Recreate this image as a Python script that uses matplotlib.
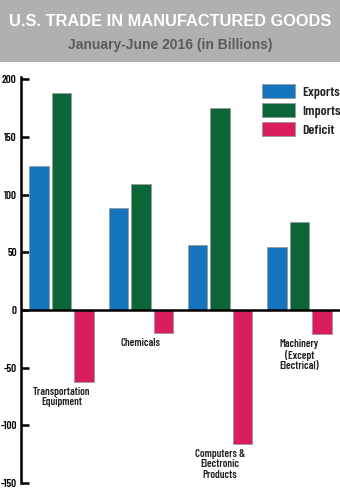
import matplotlib
matplotlib.use("Agg")
import matplotlib.pyplot as plt
from matplotlib.patches import Rectangle
import numpy as np

categories = ["Transportation\nEquipment", "Chemicals", "Computers &\nElectronic\nProducts",
              "Machinery\n(Except\nElectrical)"]
exports = [125, 88, 56, 55]
imports = [188, 109, 175, 76]
deficit = [-62, -20, -116, -21]
series_names = ["Exports", "Imports", "Deficit"]
yticks = [200, 150, 100, 50, 0, -50, -100, -150]
ytick_labels = ["200", "150", "100", "50", "0", "-50", "-100", "-150"]

colors = ["#1474bd", "#0b6536", "#d81c5c"]
COND = ["Barlow Condensed", "DejaVu Sans"]

fig = plt.figure(figsize=(3.4, 4.9), dpi=100)
fig.patch.set_facecolor("white")

# header band
fig.patches.append(Rectangle((0, 1 - 62 / 490), 1, 62 / 490, transform=fig.transFigure,
                             facecolor="#b0b0b0", edgecolor="none", zorder=0))
fig.text(0.5, 1 - 22 / 490, "U.S. TRADE IN MANUFACTURED GOODS", ha="center", va="center",
         color="white", fontsize=11.8, fontweight="bold", family=["Liberation Sans", "DejaVu Sans"])
fig.text(0.5, 1 - 45 / 490, "January-June 2016 (in Billions)", ha="center", va="center",
         color="#5a5a5a", fontsize=10, fontweight="bold", family=["Liberation Sans", "DejaVu Sans"])

ax = fig.add_axes([21 / 340, 7 / 490, 1 - 21 / 340, (483 - 77) / 490])
x = np.arange(len(categories))
step = 0.284
w = 0.246
ax.bar(x - step, exports, w, color=colors[0], edgecolor="#9a9a9a", linewidth=0.6, label=series_names[0], zorder=2)
ax.bar(x, imports, w, color=colors[1], edgecolor="#9a9a9a", linewidth=0.6, label=series_names[1], zorder=2)
ax.bar(x + step, deficit, w, color=colors[2], edgecolor="#9a9a9a", linewidth=0.6, label=series_names[2], zorder=2)

ax.set_xlim(-0.511, 3.512)
ax.set_ylim(-150, 202)
ax.axhline(0, color="black", linewidth=1.8, zorder=3)
for s in ["top", "right", "bottom"]:
    ax.spines[s].set_visible(False)
ax.spines["left"].set_linewidth(1.8)
ax.set_xticks([])
ax.set_yticks(yticks)
ax.set_yticklabels(ytick_labels, family=COND, fontsize=8, fontweight="semibold")
ax.tick_params(axis="y", direction="in", length=6, width=1.8, pad=3)

for i, cat in enumerate(categories):
    ax.text(x[i], deficit[i] - 4.5, cat, ha="center", va="top", fontsize=7.8, fontweight="semibold",
            family=COND, linespacing=1.05, color="#222222")

leg = ax.legend(loc="upper left", bbox_to_anchor=((262 - 21) / 319, 1 - (84 - 77) / 406),
                frameon=False, borderaxespad=0, borderpad=0,
                prop={"family": COND, "size": 10, "weight": "semibold"},
                handlelength=2.35, handleheight=1.2, handletextpad=0.55, labelspacing=0.3)
for h in leg.legend_handles:
    h.set_edgecolor("#9a9a9a")
for t in leg.get_texts():
    t.set_color("#222222")

fig.savefig("out.png", dpi=100)
